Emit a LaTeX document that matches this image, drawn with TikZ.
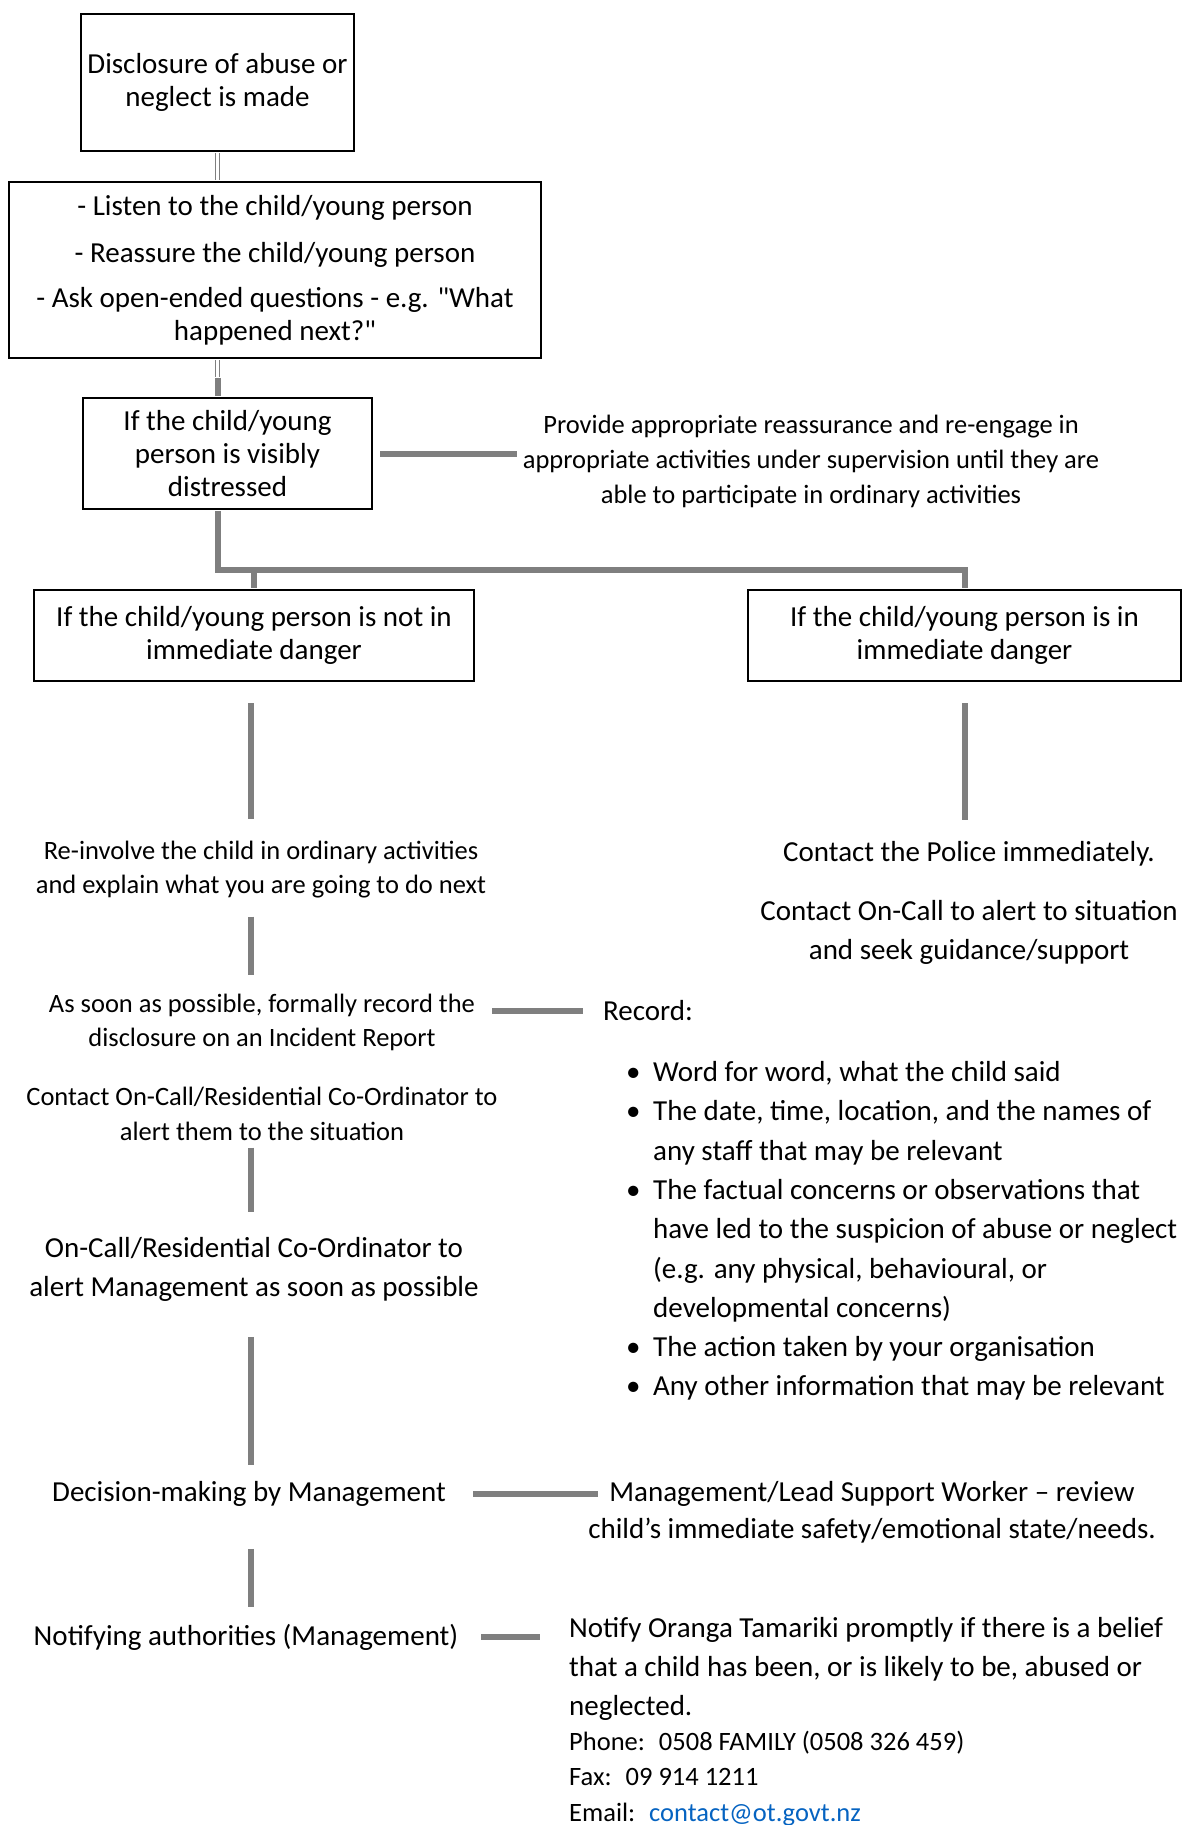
\documentclass[tikz,border=0pt]{standalone}
\usepackage{fontspec}
\setmainfont{Carlito}[Ligatures=TeXOff]
\definecolor{linkgray}{HTML}{7F7F7F}
\definecolor{maillink}{HTML}{0563C1}
\newcommand{\itembul}{\makebox[27pt][l]{•}}
\newcommand{\itemgap}{\hspace*{27pt}}
\tikzset{
  box/.style={draw, line width=2pt, font=\fontsize{29}{33}\selectfont, align=center, inner sep=0pt},
  bigtxt/.style={font=\fontsize{29}{33}\selectfont, align=center, inner sep=0pt},
  smalltxt/.style={font=\fontsize{26.5}{34}\selectfont, align=center, inner sep=0pt},
  link/.style={draw=linkgray, line width=6pt},
  twin/.style={draw=linkgray, double=white, line width=1.3pt, double distance=2.5pt, shorten <=1pt, shorten >=1pt}
}
\begin{document}
\begin{tikzpicture}[x=1pt,y=-1pt]
  \useasboundingbox (0,0) rectangle (1187,1825);

  % boxes
  \node[box, minimum width=273pt, minimum height=137pt] (disc) at (217.5,82.5) {Disclosure of abuse or\\neglect is made};
  \node[box, minimum width=532pt, minimum height=176pt] (listen) at (275,270) {- Listen to the child/young person\\[14pt]- Reassure the child/young person\\[12pt]- Ask open-ended questions - e.g. "What\\happened next?"};
  \node[box, minimum width=289pt, minimum height=111pt] (distress) at (227.5,453.5) {If the child/young\\person is visibly\\distressed};
  \node[box, minimum width=440pt, minimum height=91pt] (nodanger) at (254,635.5) {If the child/young person is not in\\immediate danger};
  \node[box, minimum width=433pt, minimum height=91pt] (danger) at (964.5,635.5) {If the child/young person is in\\immediate danger};

  % texts
  \node[smalltxt, font=\fontsize{26.5}{35}\selectfont] (provide) at (811,461) {Provide appropriate reassurance and re-engage in\\appropriate activities under supervision until they are\\able to participate in ordinary activities};
  \node[smalltxt] (reinv) at (261,870) {Re-involve the child in ordinary activities\\and explain what you are going to do next};
  \node[bigtxt] (police) at (969,854) {Contact the Police immediately.};
  \node[bigtxt, font=\fontsize{29}{39}\selectfont] (oncall) at (969,932) {Contact On-Call to alert to situation\\and seek guidance/support};
  \node[smalltxt] (asap) at (262,1022) {As soon as possible, formally record the\\disclosure on an Incident Report};
  \node[bigtxt, anchor=west] (record) at (603,1011) {Record:};
  \node[bigtxt, align=left, anchor=west, font=\fontsize{29}{39.3}\selectfont] (items) at (626,1231)
    {\itembul Word for word, what the child said\\
     \itembul The date, time, location, and the names of\\
     \itemgap any staff that may be relevant\\
     \itembul The factual concerns or observations that\\
     \itemgap have led to the suspicion of abuse or neglect\\
     \itemgap (e.g. any physical, behavioural, or\\
     \itemgap developmental concerns)\\
     \itembul The action taken by your organisation\\
     \itembul Any other information that may be relevant};
  \node[smalltxt, font=\fontsize{26.5}{35}\selectfont] (coord) at (262,1113.5) {Contact On-Call/Residential Co-Ordinator to\\alert them to the situation};
  \node[bigtxt, font=\fontsize{29}{39}\selectfont] (alert) at (254,1269.5) {On-Call/Residential Co-Ordinator to\\alert Management as soon as possible};
  \node[bigtxt] (decide) at (249,1494) {Decision-making by Management};
  \node[bigtxt, font=\fontsize{29}{37}\selectfont] (review) at (872,1512.5) {Management/Lead Support Worker – review\\child’s immediate safety/emotional state/needs.};
  \node[bigtxt] (notifying) at (246,1637) {Notifying authorities (Management)};
  \node[bigtxt, align=left, anchor=west, font=\fontsize{29}{39}\selectfont] (notify) at (569,1669) {Notify Oranga Tamariki promptly if there is a belief\\that a child has been, or is likely to be, abused or\\neglected.};
  \node[smalltxt, align=left, anchor=west, font=\fontsize{26.5}{35.5}\selectfont] (phone) at (569,1779.5) {Phone:~ 0508 FAMILY (0508 326 459)\\Fax:~ 09 914 1211\\Email:~ \textcolor{maillink}{\underline{contact@ot.govt.nz}}};

  % connectors
  \coordinate (j1) at (217.5,378);
  \coordinate (split) at (217.5,570);
  \coordinate (col) at (251,0);
  \draw[twin] (disc.south) -- (disc.south |- listen.north);
  \draw[twin] (disc.south |- listen.south) -- (j1);
  \draw[link, shorten >=1pt] (j1) -- (j1 |- distress.north);
  \draw[link, shorten <=1pt] (j1 |- distress.south) -- (split) -| ([yshift=1pt]danger.north);
  \draw[link, shorten >=1pt] (split -| nodanger.north) -- (nodanger.north);
  \draw[link, shorten <=7pt, shorten >=6pt] (distress.east) -- (distress.east -| provide.west);

  \draw[link, shorten <=21pt, shorten >=22pt] (col |- nodanger.south) -- (col |- reinv.north);
  \draw[link, shorten <=21pt, shorten >=21pt] (danger.south) -- (danger.south |- police.north);
  \draw[link, shorten <=18pt, shorten >=18pt] (col |- reinv.south) -- (col |- asap.north);
  \draw[link, shorten <=17pt, shorten >=20pt] (asap.east |- record) -- (record.west);
  \draw[link, shorten <=7pt, shorten >=25pt] (col |- coord.south) -- (col |- alert.north);
  \draw[link, shorten <=35pt, shorten >=16pt] (col |- alert.south) -- (col |- decide.north);
  \draw[link, shorten <=27pt, shorten >=-10pt] (decide.east) -- (decide.east -| review.west);
  \draw[link, shorten <=42pt, shorten >=17pt] (col |- decide.south) -- (col |- notifying.north);
  \draw[link, shorten <=23pt, shorten >=29pt] (notifying.east) -- (notifying.east -| notify.west);
\end{tikzpicture}
\end{document}
